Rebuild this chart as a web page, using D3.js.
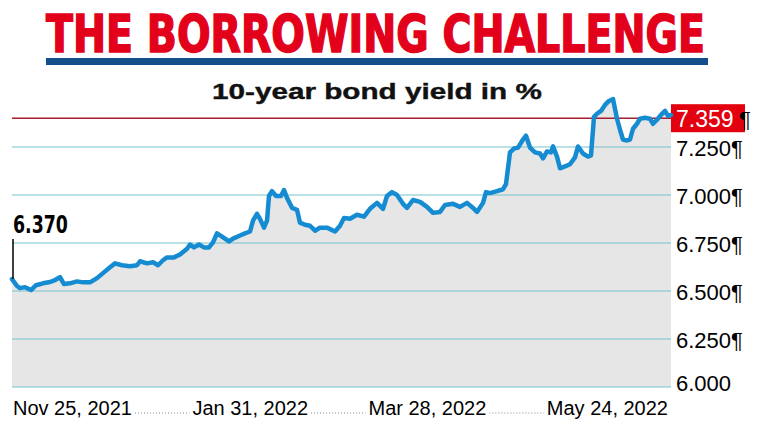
<!DOCTYPE html>
<html><head><meta charset="utf-8">
<script src="https://cdn.jsdelivr.net/npm/d3@7"></script>
<style>body{margin:0;background:#fff}svg{display:block}</style>
</head><body><svg id="c" width="757" height="426"></svg>
<script>
const title = "THE BORROWING CHALLENGE";
const subtitle = "10-year bond yield in %";
// trading-session position (Nov 25, 2021 = 0) and yield
const session = [0,1,1.6,2.6,3.8,4.8,6.2,7.6,8.6,9.6,10.4,11.6,13,14.2,15.6,17,18.2,19.6,20.6,22,23.6,25,25.6,27,28.2,29.2,30.2,31,32.4,33.6,35,35.6,36.4,37.4,38.4,39.4,40.2,41,42,43.4,44.2,45.6,46.6,47.6,48.2,49,49.6,50.4,51,51.4,52,52.8,53.8,54.4,55,56,57,57.6,58.6,59.6,60.6,61.6,63,64.6,65.6,66.4,67.6,69,70.4,71.6,73,74.2,75,76,77,78.2,79,80.2,81.6,83,84.2,85.6,86.6,88.2,89.6,91,92.4,93,94.2,94.8,95.6,97,98.2,98.8,99.6,100.4,101.2,102.2,102.8,103.6,104.6,105.6,106.2,107,107.8,108.2,109,109.6,110.6,111.6,112.6,113.2,114.2,115.2,115.8,116.4,117,117.8,118.6,119.4,120.2,121,121.6,122.2,123,123.6,124.2,125,125.6,126.6,127.6,128.2,129,130,130.6,131.2,131.8];
const yieldPct = [6.562,6.526,6.515,6.52,6.505,6.53,6.54,6.547,6.557,6.572,6.536,6.54,6.55,6.545,6.545,6.567,6.593,6.624,6.644,6.634,6.629,6.634,6.655,6.644,6.65,6.634,6.66,6.675,6.675,6.69,6.72,6.742,6.727,6.742,6.727,6.727,6.753,6.8,6.783,6.758,6.773,6.789,6.8,6.81,6.866,6.902,6.876,6.83,6.866,6.995,7.02,6.995,6.995,7.026,6.985,6.933,6.923,6.856,6.845,6.84,6.814,6.83,6.83,6.81,6.84,6.88,6.876,6.897,6.887,6.928,6.959,6.928,6.995,7.015,7.0,6.954,6.933,6.974,6.964,6.938,6.907,6.912,6.948,6.954,6.938,6.959,6.928,6.912,6.959,7.015,7.01,7.02,7.03,7.057,7.222,7.242,7.247,7.289,7.309,7.247,7.222,7.216,7.191,7.227,7.222,7.253,7.2,7.139,7.149,7.16,7.196,7.253,7.216,7.2,7.206,7.407,7.423,7.438,7.469,7.49,7.5,7.397,7.34,7.289,7.284,7.289,7.345,7.371,7.397,7.402,7.397,7.371,7.392,7.423,7.438,7.412,7.417];
const yTicks = [6.0, 6.25, 6.5, 6.75, 7.0, 7.25];
const yTickLabels = ["6.000", "6.250\u00B6", "6.500\u00B6", "6.750\u00B6", "7.000\u00B6", "7.250\u00B6"];
const dateLabels = ["Nov 25, 2021", "Jan 31, 2022", "Mar 28, 2022", "May 24, 2022"];
const startLabel = "6.370";
const latestLabel = "7.359";
const latestLevel = 7.40;

const data = session.map((s, i) => ({s, v: yieldPct[i]}));
const svg = d3.select("#c");
const sans = "'Liberation Sans', Arial, Helvetica, sans-serif";
const narrow = "'Liberation Sans Narrow', 'DejaVu Sans Condensed', 'Liberation Sans', sans-serif";

const x = d3.scaleLinear().domain(d3.extent(session)).range([12, 671]);
const y = d3.scaleLinear().domain([6, 7.25]).range([387, 147]);

// scale a text horizontally so it spans the given width, starting at x0
function fitWidth(t, x0, baseY, width) {
  const w = t.node().getComputedTextLength();
  t.attr("x", 0).attr("y", 0)
   .attr("transform", `translate(${x0},${baseY}) scale(${width / w},1)`);
}

// Title
const tt = svg.append("text")
  .attr("font-family", narrow).attr("font-weight", "bold").attr("font-size", 52)
  .attr("fill", "#e2001a").attr("stroke", "#e2001a").attr("stroke-width", 1.5)
  .text(title);
fitWidth(tt, 46, 52, 659);
svg.append("rect").attr("x", 46).attr("y", 58).attr("width", 662).attr("height", 7).attr("fill", "#114e8a");

// Area
svg.append("path").datum(data)
  .attr("fill", "#e6e6e6")
  .attr("d", d3.area().x(d => x(d.s)).y0(y(6)).y1(d => y(d.v)));

// Subtitle
const st = svg.append("text")
  .attr("font-family", sans).attr("font-weight", "bold").attr("font-size", 22.5)
  .attr("fill", "#111").attr("stroke", "#111").attr("stroke-width", 0.4).text(subtitle);
fitWidth(st, 212, 99, 330);

// Gridlines
svg.append("g").selectAll("line").data(yTicks).join("line")
  .attr("x1", 12).attr("x2", 671)
  .attr("y1", d => y(d)).attr("y2", d => y(d))
  .attr("stroke", "#74c4c9").attr("stroke-width", 1.2);

// Right tick labels
svg.append("g").selectAll("text").data(yTicks).join("text")
  .attr("x", 676).attr("y", (d, i) => y(d) + (i === 0 ? -4 : 1))
  .attr("dominant-baseline", "central")
  .attr("font-family", sans).attr("font-size", 22).attr("fill", "#000")
  .text((d, i) => yTickLabels[i]);

// Latest level line and box
svg.append("line").attr("x1", 12).attr("x2", 671)
  .attr("y1", y(latestLevel)).attr("y2", y(latestLevel))
  .attr("stroke", "#a51d2f").attr("stroke-width", 1.5);
svg.append("rect").attr("x", 671).attr("y", y(latestLevel) - 14).attr("width", 74).attr("height", 28).attr("fill", "#e3000f");
svg.append("text").attr("x", 676).attr("y", y(latestLevel) + 1).attr("dominant-baseline", "central")
  .attr("font-family", sans).attr("font-size", 23).attr("fill", "#fff").text(latestLabel);
svg.append("text").attr("x", 739).attr("y", y(latestLevel) + 1).attr("dominant-baseline", "central")
  .attr("font-family", sans).attr("font-size", 22).attr("fill", "#000").text("\u00B6");

// Line
svg.append("path").datum(data)
  .attr("fill", "none").attr("stroke", "#158bd2").attr("stroke-width", 4.5)
  .attr("stroke-linejoin", "round").attr("stroke-linecap", "round")
  .attr("d", d3.line().x(d => x(d.s)).y(d => y(d.v)));

// Start marker
const y0 = y(yieldPct[0]);
svg.append("line").attr("x1", 13).attr("x2", 13).attr("y1", y0 - 40).attr("y2", y0)
  .attr("stroke", "#000").attr("stroke-width", 1.5);
const sl = svg.append("text")
  .attr("font-family", narrow).attr("font-weight", "bold").attr("font-size", 24)
  .attr("fill", "#000").text(startLabel);
fitWidth(sl, 13, y0 - 46, 55);

// Bottom date labels, justified with dotted leaders
const gB = svg.append("g");
const lbl = gB.selectAll("text").data(dateLabels).join("text")
  .attr("y", 415).attr("font-family", sans).attr("font-size", 20).attr("fill", "#000")
  .text(d => d);
const widths = lbl.nodes().map(n => n.getComputedTextLength());
const left = 13, right = 668;
const gap = (right - left - d3.sum(widths)) / (dateLabels.length - 1);
let cx = left;
const starts = widths.map(w => { const s = cx; cx += w + gap; return s; });
lbl.attr("x", (d, i) => starts[i]);
gB.selectAll("line").data(d3.range(dateLabels.length - 1)).join("line")
  .attr("x1", i => starts[i] + widths[i] + 3).attr("x2", i => starts[i + 1] - 3)
  .attr("y1", 413).attr("y2", 413)
  .attr("stroke", "#888").attr("stroke-width", 1).attr("stroke-dasharray", "1,2");
</script></body></html>
